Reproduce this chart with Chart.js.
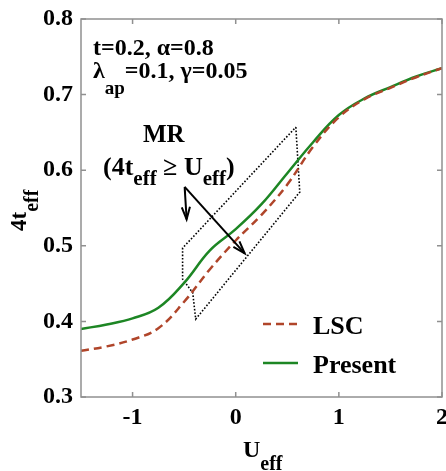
<!DOCTYPE html>
<html>
<head>
<meta charset="utf-8">
<script src="https://cdn.jsdelivr.net/npm/chart.js@4/dist/chart.umd.min.js"></script>
<style>
  html, body { margin: 0; padding: 0; background: #fff; }
  #wrap { width: 446px; height: 471px; }
</style>
</head>
<body>
<div id="wrap"><canvas id="tChart" width="446" height="471"></canvas></div>
<script>
// effective coupling U_eff and the two 4t_eff curves
const uEff    = [-1.5, -1.25, -1, -0.75, -0.5, -0.25, 0, 0.25, 0.5, 0.75, 1, 1.25, 1.5, 1.75, 2];
const present = [0.390, 0.396, 0.404, 0.418, 0.451, 0.494, 0.522, 0.555, 0.596, 0.637, 0.673, 0.695, 0.710, 0.724, 0.735];
const lsc     = [0.361, 0.367, 0.376, 0.391, 0.426, 0.469, 0.507, 0.541, 0.581, 0.631, 0.670, 0.694, 0.709, 0.723, 0.735];

const xTicks = [-1, 0, 1, 2];
const yTicks = [0.3, 0.4, 0.5, 0.6, 0.7, 0.8];

// dotted outline around the MR region
const mrBoxU = [0.583, 0.621, -0.388, -0.417, -0.515, -0.515, 0.583];
const mrBoxT = [0.657, 0.571, 0.403, 0.438, 0.456, 0.497, 0.657];

// arrows from the MR label into the region
const arrowStart = [-0.495, 0.578];
const arrowEnds  = [[-0.476, 0.535], [0.087, 0.490]];

const GREEN = '#1d8624';
const RUST  = '#b0452a';
const SERIF = '"Liberation Serif", "Times New Roman", serif';

function pts(xs, ys) {
  return xs.map((x, i) => ({ x: x, y: ys[i] }));
}

// draw a run of text pieces: [text, size, dy]
function richText(ctx, x, y, parts, angle) {
  ctx.save();
  ctx.translate(x, y);
  if (angle) ctx.rotate(angle);
  ctx.fillStyle = '#000';
  ctx.textBaseline = 'alphabetic';
  ctx.textAlign = 'left';
  let cx = 0;
  for (const [txt, size, dy] of parts) {
    ctx.font = 'bold ' + size + 'px ' + SERIF;
    ctx.fillText(txt, cx, dy);
    cx += ctx.measureText(txt).width;
  }
  ctx.restore();
}

function arrow(ctx, x0, y0, x1, y1) {
  const a = Math.atan2(y1 - y0, x1 - x0);
  const len = 13, spread = 0.32;
  ctx.beginPath();
  ctx.moveTo(x0, y0);
  ctx.lineTo(x1, y1);
  ctx.stroke();
  ctx.beginPath();
  ctx.moveTo(x1 - len * Math.cos(a - spread), y1 - len * Math.sin(a - spread));
  ctx.lineTo(x1, y1);
  ctx.lineTo(x1 - len * Math.cos(a + spread), y1 - len * Math.sin(a + spread));
  ctx.stroke();
}

const decorations = {
  id: 'decorations',
  afterDatasetsDraw(chart) {
    const { ctx, chartArea: a, scales: { x, y } } = chart;

    // axes box with inward ticks
    ctx.save();
    ctx.strokeStyle = '#909090';
    ctx.lineWidth = 1.5;
    ctx.strokeRect(a.left, a.top, a.right - a.left, a.bottom - a.top);
    ctx.beginPath();
    xTicks.forEach(v => {
      const px = x.getPixelForValue(v);
      ctx.moveTo(px, a.bottom); ctx.lineTo(px, a.bottom - 5);
      ctx.moveTo(px, a.top);    ctx.lineTo(px, a.top + 5);
    });
    yTicks.forEach(v => {
      const py = y.getPixelForValue(v);
      ctx.moveTo(a.left, py);  ctx.lineTo(a.left + 5, py);
      ctx.moveTo(a.right, py); ctx.lineTo(a.right - 5, py);
    });
    ctx.stroke();
    ctx.restore();

    // arrows
    ctx.save();
    ctx.strokeStyle = '#000';
    ctx.lineWidth = 2;
    const sx = x.getPixelForValue(arrowStart[0]);
    const sy = y.getPixelForValue(arrowStart[1]);
    arrowEnds.forEach(([u, t]) => arrow(ctx, sx, sy, x.getPixelForValue(u), y.getPixelForValue(t)));
    ctx.restore();

    // parameter text
    richText(ctx, 93, 55, [['t=0.2, \u03b1=0.8', 24, 0]]);
    richText(ctx, 93, 78, [['\u03bb', 24, 0], ['ap', 19, 16], ['=0.1, \u03b3=0.05', 24, 0]]);

    // MR label
    richText(ctx, 143, 142, [['MR', 25, 0]]);
    richText(ctx, 103, 175, [['(4t', 26, 0], ['eff', 21, 10], [' \u2265 U', 26, 0], ['eff', 21, 10], [')', 26, 0]]);

    // legend
    ctx.save();
    ctx.lineWidth = 2.5;
    ctx.strokeStyle = RUST;
    ctx.setLineDash([8, 5]);
    ctx.beginPath(); ctx.moveTo(263, 324); ctx.lineTo(298, 324); ctx.stroke();
    ctx.setLineDash([]);
    ctx.strokeStyle = GREEN;
    ctx.beginPath(); ctx.moveTo(263, 363); ctx.lineTo(298, 363); ctx.stroke();
    ctx.restore();
    richText(ctx, 313, 334, [['LSC', 26, 0]]);
    richText(ctx, 313, 373, [['Present', 26, 0]]);
  },
  afterDraw(chart) {
    const ctx = chart.ctx;
    // axis titles
    richText(ctx, 243, 457, [['U', 24, 0], ['eff', 20, 13]]);
    richText(ctx, 26, 231, [['4t', 23, 0], ['eff', 20, 12]], -Math.PI / 2);
  }
};

new Chart(document.getElementById('tChart'), {
  type: 'scatter',
  data: {
    datasets: [
      {
        label: 'LSC',
        data: pts(uEff, lsc),
        showLine: true,
        borderColor: RUST,
        borderWidth: 2.5,
        borderDash: [8, 5],
        pointRadius: 0,
        tension: 0.4,
        order: 0
      },
      {
        label: 'Present',
        data: pts(uEff, present),
        showLine: true,
        borderColor: GREEN,
        borderWidth: 2.5,
        pointRadius: 0,
        tension: 0.4,
        order: 1
      },
      {
        label: 'MR',
        data: pts(mrBoxU, mrBoxT),
        showLine: true,
        borderColor: '#000',
        borderWidth: 1.6,
        borderDash: [1.6, 1.8],
        pointRadius: 0,
        tension: 0,
        order: 2
      }
    ]
  },
  options: {
    responsive: false,
    animation: false,
    events: [],
    layout: { padding: { top: 19, right: 4, left: 0, bottom: 0 } },
    plugins: { legend: { display: false }, tooltip: { enabled: false } },
    scales: {
      x: {
        type: 'linear',
        min: -1.5,
        max: 2,
        grid: { display: false, drawTicks: false },
        border: { display: false },
        afterBuildTicks: s => { s.ticks = xTicks.map(v => ({ value: v })); },
        afterFit: s => { s.height = 74; s.paddingLeft = 0; s.paddingRight = 0; },
        ticks: {
          color: '#000',
          padding: 6,
          maxRotation: 0,
          font: { family: SERIF, weight: 'bold', size: 24 },
          callback: v => String(v)
        }
      },
      y: {
        min: 0.3,
        max: 0.8,
        grid: { display: false, drawTicks: false },
        border: { display: false },
        afterBuildTicks: s => { s.ticks = yTicks.map(v => ({ value: v })); },
        afterFit: s => { s.width = 81; s.paddingTop = 0; s.paddingBottom = 0; },
        ticks: {
          color: '#000',
          padding: 8,
          font: { family: SERIF, weight: 'bold', size: 24 },
          callback: v => v.toFixed(1)
        }
      }
    }
  },
  plugins: [decorations]
});
</script>
</body>
</html>
